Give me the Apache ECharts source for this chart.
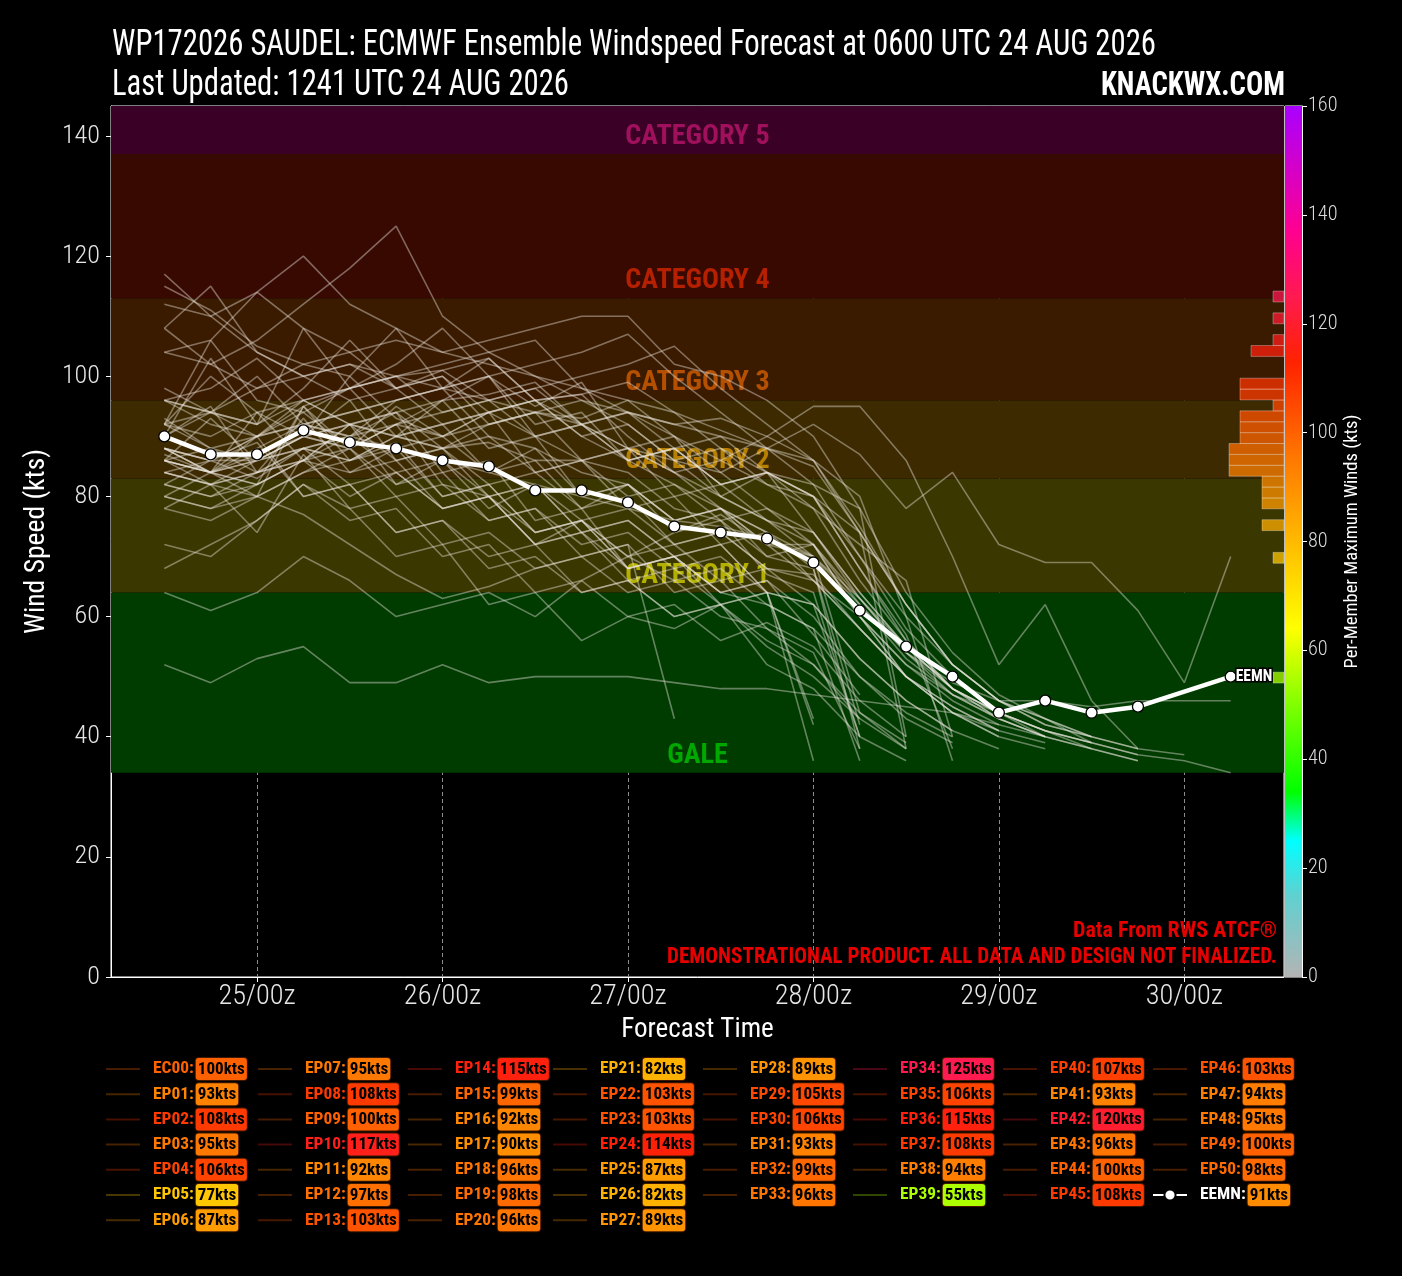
<!DOCTYPE html>
<html>
<head>
<meta charset="utf-8">
<title>WP172026 SAUDEL ECMWF Ensemble Windspeed Forecast</title>
<script src="https://cdn.jsdelivr.net/npm/echarts@6/dist/echarts.min.js"></script>
<style>
  html, body { margin: 0; padding: 0; background: #000; }
  #chart { width: 1402px; height: 1276px; }
</style>
</head>
<body>
<div id="chart"></div>
<script>
// forecast hours after 24/00z (24/12z ... 30/06z)
var hours = [12, 18, 24, 30, 36, 42, 48, 54, 60, 66, 72, 78, 84, 90, 96, 102, 108, 114, 120, 126, 132, 138, 144, 150];
var dayTicks = [24, 48, 72, 96, 120, 144];
var dayLabels = ['25/00z', '26/00z', '27/00z', '28/00z', '29/00z', '30/00z'];

var memberNames = ['EC00', 'EP01', 'EP02', 'EP03', 'EP04', 'EP05', 'EP06', 'EP07', 'EP08', 'EP09',
    'EP10', 'EP11', 'EP12', 'EP13', 'EP14', 'EP15', 'EP16', 'EP17', 'EP18', 'EP19',
    'EP20', 'EP21', 'EP22', 'EP23', 'EP24', 'EP25', 'EP26', 'EP27', 'EP28', 'EP29',
    'EP30', 'EP31', 'EP32', 'EP33', 'EP34', 'EP35', 'EP36', 'EP37', 'EP38', 'EP39',
    'EP40', 'EP41', 'EP42', 'EP43', 'EP44', 'EP45', 'EP46', 'EP47', 'EP48', 'EP49', 'EP50'];
var memberMax = [100, 93, 108, 95, 106, 77, 87, 95, 108, 100,
    117, 92, 97, 103, 115, 99, 92, 90, 96, 98,
    96, 82, 103, 103, 114, 87, 82, 89, 89, 105,
    106, 93, 99, 96, 125, 106, 115, 108, 94, 55,
    107, 93, 120, 96, 100, 108, 103, 94, 95, 100, 98];

// per-member wind speed (kts), one value per 6 h from 24/12z
var EC00 = [92, 88, 86, 90, 100, 93, 90, 94, 84, 86, 78, 80, 72, 74, 66, 58, 50, 44, 41];
var EP01 = [93, 88, 84, 86, 80, 84, 78, 80, 72, 76, 70, 66, 68, 62, 58, 50, 44, 40];
var EP02 = [96, 92, 90, 95, 98, 102, 108, 100, 95, 99, 88, 90, 80, 84, 74, 64, 55, 48, 43, 40];
var EP03 = [84, 82, 80, 95, 88, 82, 86, 78, 82, 74, 76, 70, 72, 64, 62, 40];
var EP04 = [92, 106, 96, 94, 88, 95, 90, 84, 88, 80, 82, 76, 78, 70, 72, 60, 52, 46, 42];
var EP05 = [64, 61, 64, 70, 66, 60, 62, 64, 60, 66, 70, 74, 77, 72, 66, 58, 50, 44, 40];
var EP06 = [78, 82, 74, 87, 78, 80, 72, 74, 68, 70, 64, 66, 60, 58, 52, 44, 39];
var EP07 = [90, 95, 84, 86, 90, 84, 86, 80, 82, 76, 78, 72, 74, 68, 66, 60, 52, 47, 44, 41, 39];
var EP08 = [96, 94, 98, 102, 100, 108, 98, 100, 92, 94, 86, 88, 82, 84, 78, 72, 66, 40];
var EP09 = [88, 84, 82, 86, 92, 90, 96, 100, 90, 86, 84, 78, 76, 70, 68, 42];
var EP10 = [117, 110, 104, 100, 102, 98, 101, 96, 98, 92, 94, 88, 90, 84, 82, 78, 40];
var EP11 = [80, 78, 80, 84, 88, 92, 82, 80, 74, 76, 68, 70, 64, 62, 58, 36];
var EP12 = [86, 82, 84, 88, 86, 90, 92, 94, 96, 97, 90, 84, 78, 74, 68, 38];
var EP13 = [96, 98, 103, 96, 92, 90, 88, 89, 86, 86, 88, 86, 84, 88, 92, 87, 78, 84, 72, 69, 69, 61, 49, 70];
var EP14 = [115, 111, 105, 102, 104, 98, 100, 94, 96, 90, 92, 86, 88, 82, 80, 70, 60, 52, 46, 42, 40];
var EP15 = [88, 86, 86, 90, 92, 94, 96, 97, 99, 92, 88, 84, 86, 90, 95, 95, 86, 70, 52, 62, 46, 38];
var EP16 = [80, 78, 82, 86, 92, 82, 84, 76, 78, 70, 72, 64, 66, 58, 54, 38];
var EP17 = [80, 84, 90, 80, 82, 74, 76, 70, 72, 64, 66, 60, 62, 55, 50, 43, 38];
var EP18 = [84, 86, 83, 88, 86, 90, 88, 92, 94, 93, 96, 90, 84, 78, 72, 60, 50, 44, 40, 38];
var EP19 = [88, 84, 88, 92, 90, 96, 98, 90, 88, 84, 82, 76, 78, 72, 70, 63, 54, 48, 44, 41, 39, 37];
var EP20 = [82, 80, 82, 86, 84, 88, 90, 92, 94, 96, 92, 86, 80, 76, 70, 44, 38];
var EP21 = [72, 70, 76, 82, 76, 78, 70, 72, 64, 66, 60, 62, 56, 59, 55, 46, 40];
var EP22 = [90, 103, 92, 96, 92, 94, 88, 90, 84, 86, 80, 82, 76, 78, 74, 64, 55, 48, 44, 40];
var EP23 = [92, 90, 94, 96, 98, 100, 101, 103, 96, 90, 86, 82, 78, 74, 70, 60, 50, 45, 41];
var EP24 = [104, 106, 114, 108, 104, 106, 104, 106, 108, 110, 110, 102, 100, 96, 90, 78, 64, 54, 47, 43, 39];
var EP25 = [87, 84, 80, 77, 72, 67, 63, 65, 68, 70, 72, 43];
var EP26 = [68, 72, 76, 82, 78, 70, 72, 62, 64, 56, 60, 58, 62, 52, 48, 40];
var EP27 = [78, 76, 80, 84, 86, 89, 80, 82, 74, 76, 68, 70, 64, 66, 57, 47];
var EP28 = [82, 86, 89, 80, 82, 74, 76, 68, 70, 64, 66, 60, 62, 56, 52, 43];
var EP29 = [86, 84, 86, 90, 88, 92, 94, 96, 98, 100, 102, 105, 98, 92, 86, 74, 62, 52, 46, 43, 40];
var EP30 = [98, 94, 92, 98, 106, 98, 100, 92, 94, 86, 88, 80, 82, 76, 74, 63, 54, 47, 43];
var EP31 = [86, 93, 86, 88, 82, 84, 78, 80, 72, 74, 68, 70, 64, 66, 60, 50, 43, 39];
var EP32 = [88, 84, 86, 90, 88, 92, 90, 94, 96, 97, 99, 94, 88, 84, 80, 68, 56, 48, 44, 41, 38, 36];
var EP33 = [86, 84, 87, 90, 96, 86, 88, 80, 82, 74, 76, 70, 72, 64, 36];
var EP34 = [104, 102, 106, 112, 118, 125, 110, 104, 100, 96, 94, 92, 90, 88, 86, 75, 62, 52, 46, 43, 40, 38];
var EP35 = [92, 94, 90, 96, 98, 100, 102, 104, 106, 98, 94, 90, 86, 82, 78, 66, 56, 48, 43, 40];
var EP36 = [108, 115, 104, 100, 102, 100, 98, 96, 94, 92, 94, 92, 93, 90, 86, 80, 60, 36];
var EP37 = [96, 94, 92, 108, 98, 100, 94, 96, 90, 92, 86, 88, 82, 84, 80, 74, 38];
var EP38 = [86, 84, 94, 86, 88, 80, 82, 76, 78, 72, 74, 68, 70, 64, 62, 53, 46, 41];
var EP39 = [52, 49, 53, 55, 49, 49, 52, 49, 50, 50, 50, 49, 48, 48, 47, 46, 45, 44, 42, 40, 38];
var EP40 = [88, 86, 90, 92, 94, 96, 98, 100, 102, 104, 107, 100, 94, 88, 82, 70, 58, 50, 44];
var EP41 = [82, 80, 84, 93, 84, 86, 78, 80, 72, 74, 66, 68, 62, 64, 42];
var EP42 = [112, 110, 114, 120, 112, 108, 104, 102, 100, 98, 96, 94, 91, 88, 85, 74, 62, 52, 46, 42, 40, 38, 37];
var EP43 = [84, 82, 86, 88, 90, 92, 96, 88, 90, 80, 82, 74, 76, 67, 64, 40, 36];
var EP44 = [92, 100, 94, 90, 92, 86, 88, 82, 84, 78, 82, 76, 78, 72, 72, 62, 53, 47, 43, 40, 38, 36];
var EP45 = [108, 102, 98, 100, 96, 98, 92, 94, 90, 92, 86, 88, 82, 84, 80, 68, 57, 38];
var EP46 = [88, 86, 90, 92, 94, 96, 98, 103, 96, 92, 88, 84, 80, 76, 72, 63, 55, 48, 44, 41, 39, 37, 36, 34];
var EP47 = [84, 82, 84, 88, 90, 94, 84, 86, 76, 78, 68, 70, 62, 64, 43];
var EP48 = [86, 84, 82, 95, 86, 88, 80, 82, 74, 76, 70, 72, 66, 68, 62, 53, 46, 41, 38];
var EP49 = [90, 94, 100, 92, 90, 88, 86, 84, 82, 80, 78, 76, 75, 73, 70, 62, 54, 49, 46, 46, 45, 46, 46, 46];
var EP50 = [86, 88, 90, 94, 98, 90, 92, 84, 86, 78, 80, 72, 74, 68, 67, 58, 50, 45, 41, 39];

var memberWinds = [EC00, EP01, EP02, EP03, EP04, EP05, EP06, EP07, EP08, EP09,
    EP10, EP11, EP12, EP13, EP14, EP15, EP16, EP17, EP18, EP19,
    EP20, EP21, EP22, EP23, EP24, EP25, EP26, EP27, EP28, EP29,
    EP30, EP31, EP32, EP33, EP34, EP35, EP36, EP37, EP38, EP39,
    EP40, EP41, EP42, EP43, EP44, EP45, EP46, EP47, EP48, EP49, EP50];

// ensemble mean (no point at 30/00z)
var EEMN = [90, 87, 87, 91, 89, 88, 86, 85, 81, 81, 79, 75, 74, 73, 69, 61, 55, 50, 44, 46, 44, 45, null, 50];
var eemnMax = 91;

// intensity categories (kts)
var bandNames = ['GALE', 'CATEGORY 1', 'CATEGORY 2', 'CATEGORY 3', 'CATEGORY 4', 'CATEGORY 5'];
var bandFrom = [34, 64, 83, 96, 113, 137];
var bandTo = [64, 83, 96, 113, 137, 145];

// colour scale of the per-member maximum
var cmapStops = [[0, '#b4b4b4'], [15, '#60d0d0'], [25, '#00ffff'], [34, '#00ff00'], [50, '#80ff00'],
    [64, '#ffff00'], [83, '#ffad00'], [96, '#ff7500'], [113, '#ff2200'], [125, '#ff1a50'],
    [137, '#ff0090'], [160, '#aa00ff']];

function hexRgb(h) {
    return [parseInt(h.substr(1, 2), 16), parseInt(h.substr(3, 2), 16), parseInt(h.substr(5, 2), 16)];
}
function cmap(v, a) {
    if (a === undefined) a = 1;
    var lo = cmapStops[0], hi = cmapStops[cmapStops.length - 1];
    for (var i = 0; i < cmapStops.length - 1; i++) {
        if (v >= cmapStops[i][0] && v <= cmapStops[i + 1][0]) { lo = cmapStops[i]; hi = cmapStops[i + 1]; break; }
    }
    var t = hi[0] === lo[0] ? 0 : (v - lo[0]) / (hi[0] - lo[0]);
    var c1 = hexRgb(lo[1]), c2 = hexRgb(hi[1]);
    var c = [0, 1, 2].map(function (k) { return Math.round(c1[k] + (c2[k] - c1[k]) * t); });
    return 'rgba(' + c[0] + ',' + c[1] + ',' + c[2] + ',' + a + ')';
}

// ---- pick the narrowest installed face, then size texts by width / cap height ----
var probe = document.createElement('canvas').getContext('2d');
function textW(font, s) { probe.font = font; return probe.measureText(s).width; }
function fontOk(font) { probe.font = '10px serif'; probe.font = font; return probe.font.indexOf('10px') < 0; }
function hasFamily(fam) {
    var s = 'WP172026 Ensemble Windspeed';
    return textW('100px ' + fam + ', monospace', s) !== textW('100px monospace', s) &&
        textW('100px ' + fam + ', serif', s) !== textW('100px serif', s);
}
var faces = [
    { fam: '"Noto Sans ExtraCondensed"', st: '' },
    { fam: '"Noto Sans"', st: 'extra-condensed' },
    { fam: '"Noto Sans Condensed"', st: '' },
    { fam: '"Noto Sans"', st: 'condensed' },
    { fam: '"Roboto Condensed"', st: '' },
    { fam: '"Open Sans"', st: 'condensed' },
    { fam: '"Liberation Sans Narrow"', st: '' },
    { fam: '"DejaVu Sans Condensed"', st: '' }
];
var FACE = { fam: 'Roboto', st: '' };
for (var f = 0; f < faces.length; f++) {
    var cand = faces[f];
    if (!hasFamily(cand.fam)) continue;
    if (cand.st) {
        var sf = cand.st + ' 100px ' + cand.fam;
        if (!fontOk(sf)) continue;
        if (textW(sf, 'Ensemble Windspeed') > 0.93 * textW('100px ' + cand.fam, 'Ensemble Windspeed')) continue;
    }
    FACE = cand;
    break;
}
var FONT = FACE.fam;
var FST = FACE.st || 'normal';
function fontStr(weight, size) { return (FACE.st ? FACE.st + ' ' : '') + weight + ' ' + size + 'px ' + FACE.fam; }
function capRatio(weight) {
    probe.font = fontStr(weight, 100);
    var m = probe.measureText('H');
    return (m.actualBoundingBoxAscent || 71) / 100;
}
function widthFit(text, weight, target) { return 100 * target / textW(fontStr(weight, 100), text); }
// size between the width fit and the cap-height fit
function blendFit(text, weight, wTarget, capTarget, t) {
    var a = widthFit(text, weight, wTarget), b = capTarget / capRatio(weight);
    return Math.round((a + (b - a) * t) * 10) / 10;
}

var sYLab = blendFit('140', '300', 33, 21, 0.5);
var sXLab = blendFit('25/00z', '300', 72, 21.5, 0.5);
var sCbLab = blendFit('160', '300', 28, 15, 0.5);
var sYName = blendFit('Wind Speed (kts)', 'normal', 172, 22, 0.4);
var sXName = blendFit('Forecast Time', 'normal', 140, 22, 0.4);
var sCbName = blendFit('Per-Member Maximum Winds (kts)', 'normal', 242, 16, 0.2);
var sCat = blendFit('CATEGORY 5', 'bold', 137, 21.5, 0.45);
var sLegN = blendFit('EC00:', 'bold', 37, 15, 0.33);
var sLegV = blendFit('100kts', 'bold', 42, 15, 0.33);
var sEnd = blendFit('EEMN', 'bold', 34, 12.5, 0.4);

// histogram of maxima, 2 kt bins
var allMax = memberMax.concat([eemnMax]);
var binCount = {};
allMax.forEach(function (v) {
    var b = Math.floor(v / 2) * 2;
    binCount[b] = (binCount[b] || 0) + 1;
});
var histData = Object.keys(binCount).map(function (k) { return [+k, binCount[k]]; });

var myChart = echarts.init(document.getElementById('chart'));

var bandFill = ['#003c00', '#3b3700', '#3d2a00', '#3b1b00', '#370900', '#3a0026'];
var bandText = ['#00a800', '#b4b000', '#b88000', '#b45000', '#b42000', '#a0105c'];

var bandData = bandNames.map(function (nm, i) {
    return [{
        name: nm, yAxis: bandFrom[i],
        itemStyle: { color: bandFill[i] },
        label: { color: bandText[i] }
    }, { yAxis: bandTo[i] }];
});

var series = [];
series.push({
    name: 'bands', type: 'line', xAxisIndex: 0, yAxisIndex: 0, data: [], silent: true, z: 1,
    markArea: {
        silent: true,
        label: {
            show: true, position: 'insideBottom', distance: Math.max(0, 17 - sCat / 2),
            fontFamily: FONT, fontStyle: FST, fontWeight: 'bold', fontSize: sCat, lineHeight: sCat
        },
        data: bandData
    }
});

memberNames.forEach(function (nm, i) {
    series.push({
        name: nm, type: 'line', xAxisIndex: 0, yAxisIndex: 0,
        data: memberWinds[i].map(function (v, j) { return [hours[j], v]; }),
        symbol: 'none', silent: true, z: 2,
        lineStyle: { color: 'rgba(235,230,225,0.42)', width: 1.6 }
    });
});

series.push({
    name: 'EEMN', type: 'line', xAxisIndex: 0, yAxisIndex: 0,
    data: EEMN.map(function (v, j) { return [hours[j], v]; }),
    connectNulls: true, symbol: 'circle', symbolSize: 11, showSymbol: true, z: 6,
    lineStyle: { color: '#fff', width: 4.5 },
    itemStyle: { color: '#fff', borderColor: '#000', borderWidth: 1.3 },
    endLabel: {
        show: true, formatter: 'EEMN', color: '#fff', fontFamily: FONT, fontStyle: FST, fontWeight: 'bold',
        fontSize: sEnd, textBorderColor: '#000', textBorderWidth: 3, distance: 5
    }
});

// colour bar
series.push({
    name: 'colorbar', type: 'bar', xAxisIndex: 1, yAxisIndex: 1, data: [160], barWidth: '100%', silent: true,
    itemStyle: {
        color: new echarts.graphic.LinearGradient(0, 1, 0, 0, cmapStops.map(function (s) {
            return { offset: s[0] / 160, color: s[1] };
        }))
    }
});

// histogram of per-member maxima
series.push({
    name: 'hist', type: 'custom', xAxisIndex: 2, yAxisIndex: 2, data: histData, silent: true, z: 4,
    encode: { x: 1, y: 0 },
    renderItem: function (params, api) {
        var lo = api.value(0), n = api.value(1);
        var p1 = api.coord([0, lo + 2]);
        var p2 = api.coord([n, lo]);
        return {
            type: 'rect',
            shape: { x: Math.min(p1[0], p2[0]), y: p1[1], width: Math.abs(p1[0] - p2[0]), height: p2[1] - p1[1] },
            style: { fill: cmap(lo + 1, 0.75), stroke: 'rgba(255,255,255,0.3)', lineWidth: 1 }
        };
    }
});

// legend: 8 columns
var legendNames = memberNames.concat(['EEMN']);
var legendMax = memberMax.concat([eemnMax]);
var rich = {};
legendNames.forEach(function (nm, i) {
    var c = legendMax[i];
    rich['n' + i] = {
        color: nm === 'EEMN' ? '#fff' : cmap(c), fontFamily: FONT, fontStyle: FST, fontWeight: 'bold',
        fontSize: sLegN, lineHeight: 22, padding: [0, 2, 0, 8]
    };
    rich['v' + i] = {
        color: '#000', backgroundColor: cmap(c), borderColor: 'rgba(110,40,0,0.6)', borderWidth: 1,
        borderRadius: 3, padding: [3, 2, 2, 2], fontFamily: FONT, fontStyle: FST, fontWeight: 'bold',
        fontSize: sLegV, lineHeight: 17
    };
});
var colStarts = [0, 7, 14, 21, 28, 34, 40, 46, 52];
var colLeft = [105, 257, 407, 552, 702, 852, 1002, 1152];
var legends = [];
for (var c = 0; c < 8; c++) {
    var items = [];
    for (var k = colStarts[c]; k < colStarts[c + 1]; k++) {
        var nm = legendNames[k];
        if (nm === 'EEMN') {
            items.push({ name: nm });
        } else {
            items.push({
                name: nm,
                lineStyle: { color: cmap(legendMax[k], 0.28), width: 2, opacity: 1 },
                itemStyle: { opacity: 0 }
            });
        }
    }
    legends.push({
        orient: 'vertical', left: colLeft[c], top: 1057, padding: 0,
        itemWidth: 34, itemHeight: 14, itemGap: 1.2, selectedMode: false,
        data: items,
        formatter: function (name) {
            var i = legendNames.indexOf(name);
            return '{n' + i + '|' + name + ':}{v' + i + '|' + legendMax[i] + 'kts}';
        },
        textStyle: { rich: rich }
    });
}

// free text: sized to the cap height, squeezed to the measured width
function label(text, x, y, weight, capH, width, color, align) {
    var size = Math.round(capH / capRatio(weight) * 10) / 10;
    var sx = width / textW(fontStr(weight, size), text);
    return {
        type: 'text', x: x, y: y, scaleX: sx, silent: true, z: 10,
        style: { text: text, fill: color, font: fontStr(weight, size), align: align, verticalAlign: 'middle' }
    };
}

var option = {
    backgroundColor: '#000',
    animation: false,
    graphic: [
        label('WP172026 SAUDEL: ECMWF Ensemble Windspeed Forecast at 0600 UTC 24 AUG 2026', 112, 46, 'normal', 26, 1044, '#fff', 'left'),
        label('Last Updated: 1241 UTC 24 AUG 2026', 112, 86, 'normal', 26, 457, '#fff', 'left'),
        label('KNACKWX.COM', 1285, 87, 'bold', 24, 184, '#fff', 'right'),
        label('Data From RWS ATCF®', 1277, 931, 'bold', 16, 204, '#e80000', 'right'),
        label('DEMONSTRATIONAL PRODUCT. ALL DATA AND DESIGN NOT FINALIZED.', 1277, 957, 'bold', 16, 610, '#e80000', 'right')
    ],
    legend: legends,
    grid: [
        { left: 111, top: 106, width: 1173, height: 871, show: true, borderColor: '#fff', borderWidth: 1, backgroundColor: 'transparent' },
        { left: 1285, top: 106, width: 17, height: 871, show: true, borderColor: '#fff', borderWidth: 1 },
        { left: 1174, top: 106, width: 110, height: 871 }
    ],
    xAxis: [
        {
            gridIndex: 0, type: 'value', min: 5.1, max: 156.9,
            axisLine: { show: true, lineStyle: { color: '#fff' } },
            axisTick: { show: true, customValues: dayTicks, length: 5, lineStyle: { color: '#fff' } },
            axisLabel: {
                customValues: dayTicks, margin: Math.max(2, 20.5 - sXLab / 2), fontSize: sXLab, color: '#e6e6e6',
                fontFamily: FONT, fontStyle: FST, fontWeight: 300,
                formatter: function (v) { return dayLabels[dayTicks.indexOf(v)] || ''; }
            },
            splitLine: { show: true, lineStyle: { color: '#8c8c8c', type: [4, 3], width: 1 } },
            name: 'Forecast Time', nameLocation: 'middle', nameGap: 53 - sXName / 2,
            nameTextStyle: { color: '#fff', fontFamily: FONT, fontStyle: FST, fontSize: sXName }
        },
        { gridIndex: 1, type: 'category', data: ['max'], show: false },
        { gridIndex: 2, type: 'value', min: 0, max: 10, inverse: true, show: false }
    ],
    yAxis: [
        {
            gridIndex: 0, type: 'value', min: 0, max: 145, interval: 20,
            axisLine: { show: true, lineStyle: { color: '#fff' } },
            axisTick: { show: true, length: 5, lineStyle: { color: '#fff' } },
            axisLabel: {
                showMaxLabel: false, margin: 11, fontSize: sYLab, color: '#e6e6e6',
                fontFamily: FONT, fontStyle: FST, fontWeight: 300
            },
            splitLine: { show: false },
            name: 'Wind Speed (kts)', nameLocation: 'middle', nameGap: 70 - sYName / 2, nameRotate: 90,
            nameTextStyle: { color: '#fff', fontFamily: FONT, fontStyle: FST, fontSize: sYName }
        },
        {
            gridIndex: 1, type: 'value', min: 0, max: 160, interval: 20, position: 'right',
            axisLine: { show: true, lineStyle: { color: '#fff' } },
            axisTick: { show: true, length: 5, lineStyle: { color: '#fff' } },
            axisLabel: { margin: 6, fontSize: sCbLab, color: '#dcdcdc', fontFamily: FONT, fontStyle: FST, fontWeight: 300 },
            splitLine: { show: false },
            name: 'Per-Member Maximum Winds (kts)', nameLocation: 'middle', nameGap: 50 - sCbName / 2, nameRotate: 90,
            nameTextStyle: { color: '#fff', fontFamily: FONT, fontStyle: FST, fontSize: sCbName }
        },
        { gridIndex: 2, type: 'value', min: 0, max: 160, show: false }
    ],
    series: series
};

if (option && typeof option === 'object') {
    myChart.setOption(option, true);
}
</script>
</body>
</html>
